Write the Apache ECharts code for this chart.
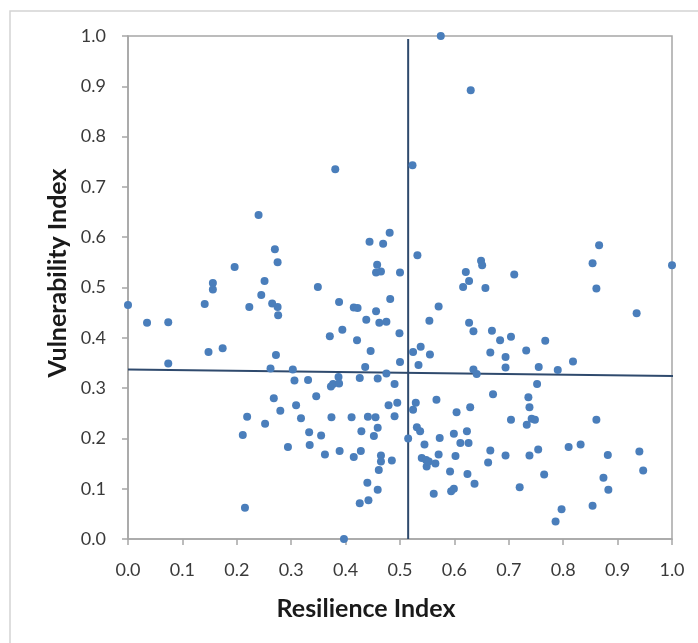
<!DOCTYPE html>
<html>
<head>
<meta charset="utf-8">
<script src="https://cdn.jsdelivr.net/npm/echarts@6/dist/echarts.min.js"></script>
<style>
html,body{margin:0;padding:0;background:#fff;}
#chart{width:698px;height:643px;}
</style>
</head>
<body>
<div id="chart"></div>
<script>
// Resilience Index (x) and Vulnerability Index (y)
const resilience = [
0.000,0.035,0.074,0.074,0.141,0.148,0.156,0.156,0.174,0.196,
0.211,0.215,0.219,0.223,0.240,0.245,0.251,0.252,0.262,0.265,
0.270,0.268,0.275,0.275,0.276,0.272,0.280,0.294,0.303,0.306,
0.309,0.318,0.331,0.333,0.334,0.346,0.349,0.355,0.362,0.371,
0.373,0.374,0.377,0.381,0.388,0.387,0.388,0.389,0.394,0.397,
0.411,0.415,0.415,0.422,0.421,0.426,0.428,0.426,0.429,0.436,
0.438,0.440,0.441,0.442,0.444,0.446,0.452,0.455,0.456,0.458,
0.456,0.459,0.459,0.459,0.461,0.462,0.465,0.465,0.465,0.469,
0.475,0.475,0.479,0.481,0.482,0.485,0.490,0.490,0.495,0.499,
0.500,0.500,0.515,0.523,0.524,0.524,0.529,0.532,0.534,0.531,
0.538,0.537,0.540,0.545,0.548,0.549,0.553,0.554,0.555,0.562,
0.565,0.567,0.571,0.571,0.573,0.575,0.592,0.594,0.599,0.599,
0.602,0.604,0.611,0.616,0.621,0.623,0.624,0.626,0.627,0.627,
0.629,0.630,0.635,0.635,0.637,0.641,0.649,0.651,0.657,0.662,
0.666,0.666,0.669,0.671,0.684,0.694,0.694,0.694,0.704,0.704,
0.710,0.720,0.732,0.733,0.736,0.738,0.738,0.742,0.748,0.752,
0.754,0.755,0.765,0.767,0.786,0.790,0.797,0.810,0.818,0.832,
0.854,0.854,0.861,0.861,0.866,0.874,0.882,0.883,0.935,0.940,
0.947,1.000
];
const vulnerability = [
0.465,0.430,0.431,0.349,0.467,0.372,0.509,0.496,0.379,0.541,
0.207,0.062,0.243,0.461,0.644,0.485,0.513,0.229,0.339,0.468,
0.576,0.280,0.550,0.461,0.445,0.366,0.255,0.183,0.337,0.315,
0.266,0.240,0.316,0.212,0.187,0.284,0.501,0.206,0.168,0.403,
0.303,0.242,0.308,0.735,0.471,0.322,0.309,0.175,0.416,0.000,
0.242,0.460,0.163,0.459,0.395,0.320,0.175,0.071,0.214,0.342,
0.436,0.112,0.243,0.077,0.591,0.374,0.205,0.242,0.453,0.545,
0.530,0.319,0.221,0.098,0.137,0.430,0.532,0.166,0.154,0.587,
0.432,0.329,0.266,0.609,0.477,0.156,0.308,0.244,0.271,0.409,
0.352,0.530,0.200,0.743,0.257,0.372,0.271,0.564,0.346,0.222,
0.382,0.214,0.161,0.188,0.157,0.144,0.154,0.434,0.367,0.090,
0.150,0.277,0.462,0.168,0.201,1.000,0.134,0.095,0.100,0.209,
0.165,0.252,0.191,0.501,0.531,0.214,0.129,0.191,0.513,0.430,
0.262,0.892,0.413,0.337,0.110,0.328,0.553,0.544,0.499,0.152,
0.371,0.176,0.414,0.288,0.395,0.362,0.341,0.166,0.402,0.237,
0.526,0.103,0.375,0.227,0.282,0.262,0.166,0.239,0.237,0.308,
0.178,0.342,0.128,0.394,0.035,0.336,0.059,0.183,0.353,0.188,
0.066,0.548,0.498,0.237,0.584,0.122,0.167,0.098,0.449,0.174,
0.136,0.544
];
// Quadrant reference lines
const verticalLine = [[0.515, 0.0], [0.515, 0.994]];
const horizontalLine = [[0.0, 0.337], [1.008, 0.324]];
const tickLabels = ['0.0','0.1','0.2','0.3','0.4','0.5','0.6','0.7','0.8','0.9','1.0'];

const points = resilience.map((x, i) => [x, vulnerability[i]]);
const fmt = v => tickLabels[Math.round(v * 10)];

const chart = echarts.init(document.getElementById('chart'), null, {renderer: 'canvas'});
const axisCommon = {
  type: 'value', min: 0, max: 1, interval: 0.1,
  axisLine: {show: true, onZero: false, lineStyle: {color: '#a6a6a6', width: 1.5}},
  axisTick: {show: true, length: 6, lineStyle: {color: '#a6a6a6', width: 1.5}},
  splitLine: {show: false},
  axisLabel: {formatter: fmt, color: '#3a3a3a', fontSize: 18, fontFamily: 'Lato'}
};
chart.setOption({
  animation: false,
  backgroundColor: '#fff',
  grid: {left: 128, top: 36, width: 544, height: 503, show: true, borderColor: '#a6a6a6', borderWidth: 1.5, containLabel: false},
  xAxis: Object.assign({}, axisCommon, {axisLabel: Object.assign({}, axisCommon.axisLabel, {margin: 22})}),
  yAxis: Object.assign({}, axisCommon, {axisLabel: Object.assign({}, axisCommon.axisLabel, {margin: 22})}),
  graphic: [
    {type: 'rect', shape: {x: 10, y: 11, width: 720, height: 700}, style: {fill: 'none', stroke: '#d4d4d4', lineWidth: 1.5}, silent: true},
    {type: 'text', x: 366, y: 609, style: {text: 'Resilience Index', font: 'bold 25px Lato', fill: '#1a1a1a', textAlign: 'center', textVerticalAlign: 'middle'}},
    {type: 'text', x: 58, y: 273, rotation: Math.PI / 2, style: {text: 'Vulnerability Index', font: 'bold 25px Lato', fill: '#1a1a1a', textAlign: 'center', textVerticalAlign: 'middle'}}
  ],
  series: [
    {type: 'line', data: verticalLine, symbol: 'none', clip: false, lineStyle: {color: '#2f4a6d', width: 2}, z: 3},
    {type: 'line', data: horizontalLine, symbol: 'none', clip: false, lineStyle: {color: '#2f4a6d', width: 2}, z: 3},
    {type: 'scatter', data: points, symbol: 'circle', symbolSize: 8, clip: false, itemStyle: {color: '#4a7ebb', opacity: 1}, z: 4}
  ]
});
</script>
</body>
</html>
